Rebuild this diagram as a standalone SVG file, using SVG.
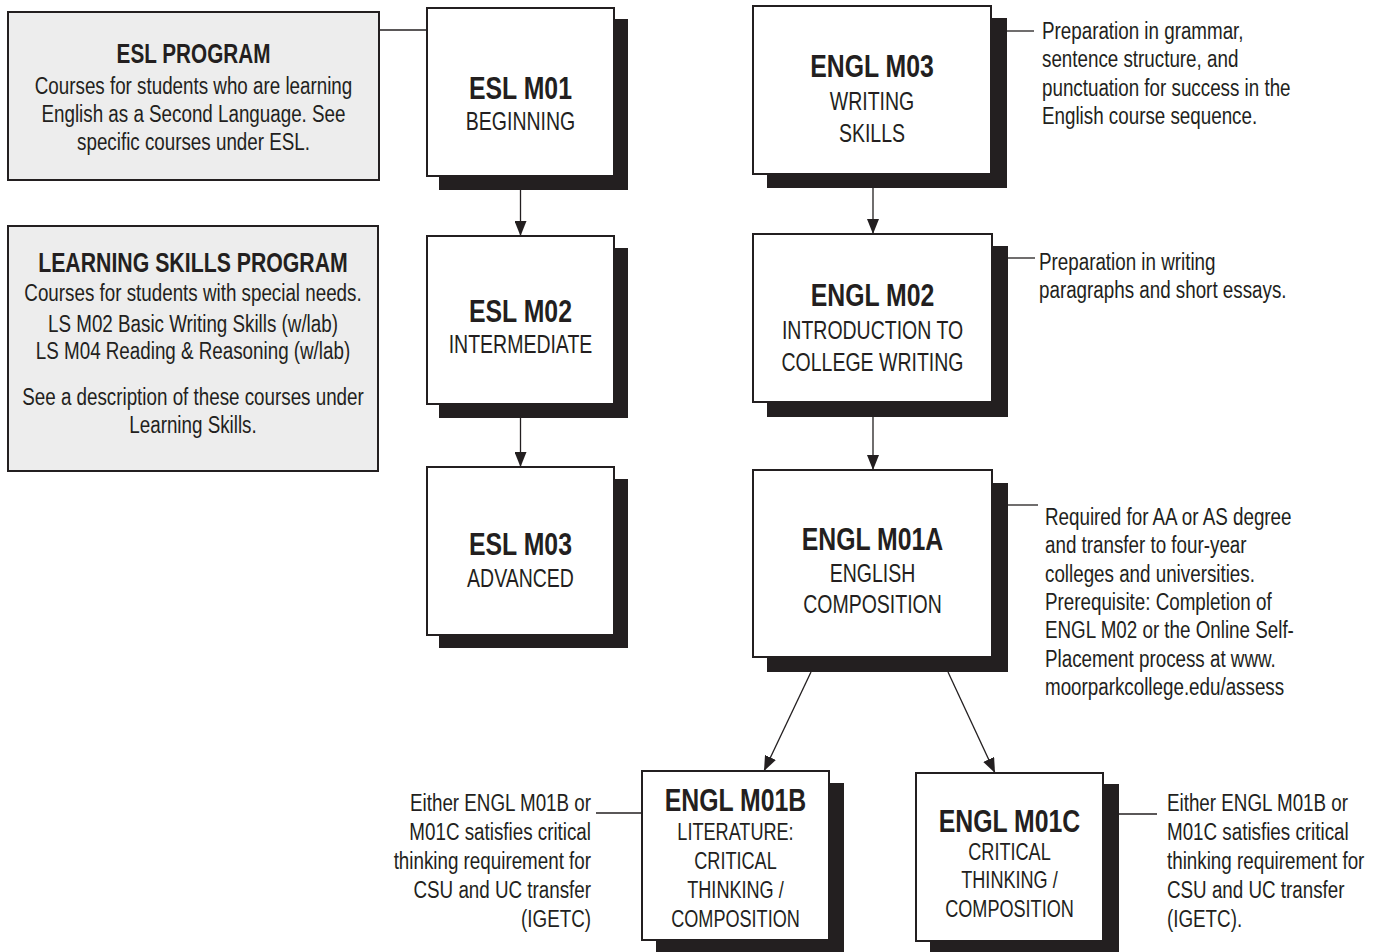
<svg xmlns="http://www.w3.org/2000/svg" width="1387" height="952" viewBox="0 0 1387 952">
<defs>
<style>
text{font-family:"Liberation Sans",Arial,sans-serif;fill:#231f20}
.b{font-weight:bold;font-size:31px}
.s{font-size:26px}
.ss{font-size:23.5px}
.t{font-size:23.5px}
.tb{font-weight:bold;font-size:28px}
.box{fill:#fff;stroke:#231f20;stroke-width:2}
.gbox{fill:#ededed;stroke:#231f20;stroke-width:2}
.sh{fill:#231f20}
.ln{stroke:#231f20;stroke-width:1.3;fill:none}
.m{text-anchor:middle}
.e{text-anchor:end}
</style>
<marker id="ah" markerUnits="userSpaceOnUse" markerWidth="16" markerHeight="12" refX="15" refY="6" orient="auto"><path d="M0,0 L15,6 L0,12 z" fill="#231f20"/></marker>
</defs>
<rect width="1387" height="952" fill="#fff"/>

<g id="connectors">
<line class="ln" x1="379" y1="30" x2="427" y2="30"/>
<line class="ln" x1="520.5" y1="190" x2="520.5" y2="236" marker-end="url(#ah)"/>
<line class="ln" x1="520.5" y1="418" x2="520.5" y2="467" marker-end="url(#ah)"/>
<line class="ln" x1="873" y1="188" x2="873" y2="234" marker-end="url(#ah)"/>
<line class="ln" x1="873" y1="417" x2="873" y2="470" marker-end="url(#ah)"/>
<line class="ln" x1="811" y1="672" x2="764" y2="771" marker-end="url(#ah)"/>
<line class="ln" x1="948" y1="672" x2="995" y2="773" marker-end="url(#ah)"/>
<line class="ln" x1="1007" y1="31" x2="1034" y2="31"/>
<line class="ln" x1="1008" y1="258" x2="1035" y2="258"/>
<line class="ln" x1="1008" y1="505" x2="1038" y2="505"/>
<line class="ln" x1="596" y1="813" x2="642" y2="813"/>
<line class="ln" x1="1119" y1="814" x2="1157" y2="814"/>
</g>

<g id="esl-program">
<rect class="gbox" x="8" y="12" width="371" height="168"/>
<g transform="matrix(0.74,0,0,1,193.5,0)"><text class="tb m" x="0" y="63">ESL PROGRAM</text></g>
<g transform="matrix(0.8,0,0,1,193.5,0)">
<text class="t m" x="0" y="94">Courses for students who are learning</text>
<text class="t m" x="0" y="122">English as a Second Language. See</text>
<text class="t m" x="0" y="150">specific courses under ESL.</text>
</g>
</g>

<g id="ls-program">
<rect class="gbox" x="8" y="226" width="370" height="245"/>
<g transform="matrix(0.76,0,0,1,193,0)"><text class="tb m" x="0" y="272">LEARNING SKILLS PROGRAM</text></g>
<g transform="matrix(0.8,0,0,1,193,0)">
<text class="t m" x="0" y="301">Courses for students with special needs.</text>
<text class="t m" x="0" y="332">LS M02 Basic Writing Skills (w/lab)</text>
<text class="t m" x="0" y="359">LS M04 Reading &amp; Reasoning (w/lab)</text>
<text class="t m" x="0" y="405">See a description of these courses under</text>
<text class="t m" x="0" y="433">Learning Skills.</text>
</g>
</g>

<g id="esl-m01">
<rect class="sh" x="439" y="19" width="189" height="171"/>
<rect class="box" x="427" y="8" width="187" height="168"/>
<g transform="matrix(0.8,0,0,1,520.5,0)"><text class="b m" x="0" y="99">ESL M01</text></g>
<g transform="matrix(0.75,0,0,1,520.5,0)"><text class="s m" x="0" y="130">BEGINNING</text></g>
</g>

<g id="esl-m02">
<rect class="sh" x="439" y="248" width="189" height="170"/>
<rect class="box" x="427" y="236" width="187" height="168"/>
<g transform="matrix(0.8,0,0,1,520.5,0)"><text class="b m" x="0" y="322">ESL M02</text></g>
<g transform="matrix(0.75,0,0,1,520.5,0)"><text class="s m" x="0" y="353">INTERMEDIATE</text></g>
</g>

<g id="esl-m03">
<rect class="sh" x="439" y="479" width="189" height="169"/>
<rect class="box" x="427" y="467" width="187" height="168"/>
<g transform="matrix(0.8,0,0,1,520.5,0)"><text class="b m" x="0" y="555">ESL M03</text></g>
<g transform="matrix(0.75,0,0,1,520.5,0)"><text class="s m" x="0" y="587">ADVANCED</text></g>
</g>

<g id="engl-m03">
<rect class="sh" x="767" y="18" width="240" height="170"/>
<rect class="box" x="753" y="6" width="238" height="168"/>
<g transform="matrix(0.8,0,0,1,872,0)"><text class="b m" x="0" y="77">ENGL M03</text></g>
<g transform="matrix(0.75,0,0,1,872,0)">
<text class="s m" x="0" y="110">WRITING</text>
<text class="s m" x="0" y="142">SKILLS</text>
</g>
<g transform="matrix(0.8,0,0,1,1042,0)">
<text class="t" x="0" y="39">Preparation in grammar,</text>
<text class="t" x="0" y="67">sentence structure, and</text>
<text class="t" x="0" y="96">punctuation for success in the</text>
<text class="t" x="0" y="124">English course sequence.</text>
</g>
</g>

<g id="engl-m02">
<rect class="sh" x="767" y="246" width="241" height="171"/>
<rect class="box" x="753" y="234" width="239" height="168"/>
<g transform="matrix(0.8,0,0,1,872.5,0)"><text class="b m" x="0" y="306">ENGL M02</text></g>
<g transform="matrix(0.75,0,0,1,872.5,0)">
<text class="s m" x="0" y="339">INTRODUCTION TO</text>
<text class="s m" x="0" y="371">COLLEGE WRITING</text>
</g>
<g transform="matrix(0.8,0,0,1,1039,0)">
<text class="t" x="0" y="270">Preparation in writing</text>
<text class="t" x="0" y="298">paragraphs and short essays.</text>
</g>
</g>

<g id="engl-m01a">
<rect class="sh" x="767" y="483" width="241" height="189"/>
<rect class="box" x="753" y="470" width="239" height="187"/>
<g transform="matrix(0.8,0,0,1,872.5,0)"><text class="b m" x="0" y="550">ENGL M01A</text></g>
<g transform="matrix(0.75,0,0,1,872.5,0)">
<text class="s m" x="0" y="582">ENGLISH</text>
<text class="s m" x="0" y="613">COMPOSITION</text>
</g>
<g transform="matrix(0.8,0,0,1,1045,0)">
<text class="t" x="0" y="525">Required for AA or AS degree</text>
<text class="t" x="0" y="553">and transfer to four-year</text>
<text class="t" x="0" y="582">colleges and universities.</text>
<text class="t" x="0" y="610">Prerequisite: Completion of</text>
<text class="t" x="0" y="638">ENGL M02 or the Online Self-</text>
<text class="t" x="0" y="667">Placement process at www.</text>
<text class="t" x="0" y="695">moorparkcollege.edu/assess</text>
</g>
</g>

<g id="engl-m01b">
<rect class="sh" x="656" y="783" width="188" height="175"/>
<rect class="box" x="642" y="771" width="187" height="169"/>
<g transform="matrix(0.8,0,0,1,735.5,0)"><text class="b m" x="0" y="811">ENGL M01B</text></g>
<g transform="matrix(0.77,0,0,1,735.5,0)">
<text class="ss m" x="0" y="840">LITERATURE:</text>
<text class="ss m" x="0" y="869">CRITICAL</text>
<text class="ss m" x="0" y="898">THINKING /</text>
<text class="ss m" x="0" y="927">COMPOSITION</text>
</g>
<g transform="matrix(0.8,0,0,1,591,0)">
<text class="t e" x="0" y="811">Either ENGL M01B or</text>
<text class="t e" x="0" y="840">M01C satisfies critical</text>
<text class="t e" x="0" y="869">thinking requirement for</text>
<text class="t e" x="0" y="898">CSU and UC transfer</text>
<text class="t e" x="0" y="927">(IGETC)</text>
</g>
</g>

<g id="engl-m01c">
<rect class="sh" x="930" y="784" width="189" height="174"/>
<rect class="box" x="916" y="773" width="187" height="168"/>
<g transform="matrix(0.8,0,0,1,1009.5,0)"><text class="b m" x="0" y="832">ENGL M01C</text></g>
<g transform="matrix(0.77,0,0,1,1009.5,0)">
<text class="ss m" x="0" y="860">CRITICAL</text>
<text class="ss m" x="0" y="888">THINKING /</text>
<text class="ss m" x="0" y="917">COMPOSITION</text>
</g>
<g transform="matrix(0.8,0,0,1,1167,0)">
<text class="t" x="0" y="811">Either ENGL M01B or</text>
<text class="t" x="0" y="840">M01C satisfies critical</text>
<text class="t" x="0" y="869">thinking requirement for</text>
<text class="t" x="0" y="898">CSU and UC transfer</text>
<text class="t" x="0" y="927">(IGETC).</text>
</g>
</g>
</svg>
